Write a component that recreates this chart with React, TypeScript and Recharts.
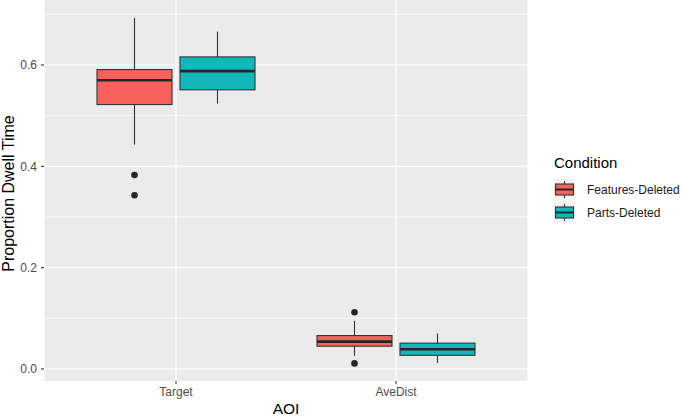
import React from 'react';
import { ComposedChart, Bar, XAxis, YAxis, CartesianGrid, Legend } from 'recharts';

// ---- data ----
const categories = ['Target', 'AveDist'];
const seriesNames = ['Features-Deleted', 'Parts-Deleted'];
const seriesColors = ['#F8625C', '#13B7BA'];

// Features-Deleted box statistics (per category)
const fdLower = [0.443, 0.026];
const fdQ1 = [0.522, 0.045];
const fdMedian = [0.570, 0.054];
const fdQ3 = [0.591, 0.066];
const fdUpper = [0.693, 0.095];
const fdOutliers = [[0.383, 0.343], [0.112, 0.011]];

// Parts-Deleted box statistics (per category)
const pdLower = [0.524, 0.012];
const pdQ1 = [0.551, 0.027];
const pdMedian = [0.588, 0.039];
const pdQ3 = [0.616, 0.051];
const pdUpper = [0.666, 0.070];
const pdOutliers: number[][] = [[], []];

const yTicks = [0, 0.2, 0.4, 0.6];
const yMinorTicks = [0.1, 0.3, 0.5, 0.7];
const yDomain = [-0.0237, 0.7283];

type Stats = {
  name: string;
  color: string;
  lower: number[];
  q1: number[];
  median: number[];
  q3: number[];
  upper: number[];
  outliers: number[][];
};

const series: Stats[] = [
  { name: seriesNames[0], color: seriesColors[0], lower: fdLower, q1: fdQ1, median: fdMedian, q3: fdQ3, upper: fdUpper, outliers: fdOutliers },
  { name: seriesNames[1], color: seriesColors[1], lower: pdLower, q1: pdQ1, median: pdMedian, q3: pdQ3, upper: pdUpper, outliers: pdOutliers },
];

const rows = categories.map((aoi, i) => ({
  aoi,
  idx: i,
  fd: [fdLower[i], fdUpper[i]],
  pd: [pdLower[i], pdUpper[i]],
}));

const FONT = '"Liberation Sans", Arial, Helvetica, sans-serif';
const DARK = '#333333';

function makeBoxShape(s: Stats) {
  return (props: any) => {
    const { x, y, width, height, payload } = props;
    if (payload == null || x == null || y == null) return <g />;
    const i = payload.idx;
    const top = Math.min(y, y + height);
    const h = Math.abs(height);
    const lo = s.lower[i];
    const hi = s.upper[i];
    const k = h / (hi - lo);
    const py = (v: number) => top + (hi - v) * k;
    const cx = x + width / 2;
    const yQ3 = py(s.q3[i]);
    const yQ1 = py(s.q1[i]);
    const yMed = py(s.median[i]);
    return (
      <g>
        <line x1={cx} x2={cx} y1={py(hi)} y2={py(lo)} stroke={DARK} strokeWidth={1.1} />
        <rect x={x} y={yQ3} width={width} height={yQ1 - yQ3} fill={s.color} stroke={DARK} strokeWidth={1.1} />
        <line x1={x} x2={x + width} y1={yMed} y2={yMed} stroke="#262626" strokeWidth={2.6} />
        {s.outliers[i].map((v, j) => (
          <circle key={j} cx={cx} cy={py(v)} r={3.3} fill="#262626" />
        ))}
      </g>
    );
  };
}

const YTitle = (props: any) => {
  const vb = props.viewBox || { x: 0, y: 0, width: 44, height: 381 };
  const bx = vb.x + 14;
  const cy = vb.y + vb.height / 2 + 3;
  return (
    <text x={bx} y={cy} transform={`rotate(-90, ${bx}, ${cy})`} textAnchor="middle" fontSize={16} fontFamily={FONT} fill="#000">
      Proportion Dwell Time
    </text>
  );
};

const XTitle = (props: any) => {
  const vb = props.viewBox || { x: 44, y: 381, width: 484, height: 36 };
  return (
    <text x={vb.x + vb.width / 2} y={vb.y + vb.height - 3} textAnchor="middle" fontSize={15.5} fontFamily={FONT} fill="#000">
      AOI
    </text>
  );
};

const renderLegend = () => (
  <svg width={137} height={80} style={{ display: 'block', overflow: 'visible' }}>
    <text x={6} y={18} fontSize={15} fontFamily={FONT} fill="#000">Condition</text>
    {series.map((s, j) => {
      const ky = 28 + j * 23;
      return (
        <g key={s.name}>
          <rect x={5} y={ky} width={23} height={23} fill="#F2F2F2" stroke="#FFFFFF" strokeWidth={1} />
          <line x1={16.5} x2={16.5} y1={ky + 3} y2={ky + 20} stroke={DARK} strokeWidth={1.1} />
          <rect x={7.5} y={ky + 6} width={18} height={11} fill={s.color} stroke={DARK} strokeWidth={1.1} />
          <line x1={7.5} x2={25.5} y1={ky + 11.5} y2={ky + 11.5} stroke="#262626" strokeWidth={2} />
          <text x={39} y={ky + 11.5} dy="0.35em" fontSize={12} fontFamily={FONT} fill="#1a1a1a">{s.name}</text>
        </g>
      );
    })}
  </svg>
);

export default function App() {
  return (
    <div style={{ position: 'absolute', left: 0, top: 0, width: 685, height: 417, background: '#fff' }}>
      <ComposedChart
        width={685}
        height={417}
        data={rows}
        margin={{ top: 0, right: 157, bottom: 0, left: 0 }}
        barSize={75}
        barGap={8}
      >
        <CartesianGrid
          fill="#EBEBEB"
          fillOpacity={1}
          stroke="#FFFFFF"
          strokeWidth={0.6}
          vertical={false}
          horizontalValues={yMinorTicks}
        />
        <CartesianGrid
          stroke="#FFFFFF"
          strokeWidth={1.2}
          horizontalValues={yTicks}
        />
        <XAxis
          dataKey="aoi"
          type="category"
          padding={{ left: 22, right: 22 }}
          height={36}
          interval={0}
          axisLine={false}
          tickSize={3}
          tickMargin={3}
          tickLine={{ stroke: DARK, strokeWidth: 1.1 }}
          tick={{ fill: '#4D4D4D', fontSize: 12, fontFamily: FONT }}
          label={(p: any) => <XTitle {...p} />}
        />
        <YAxis
          type="number"
          width={44}
          domain={yDomain}
          allowDataOverflow
          ticks={yTicks}
          interval={0}
          axisLine={false}
          tickSize={3}
          tickMargin={4}
          tickLine={{ stroke: DARK, strokeWidth: 1.1 }}
          tick={{ fill: '#4D4D4D', fontSize: 12, fontFamily: FONT }}
          tickFormatter={(v: number) => v.toFixed(1)}
          label={(p: any) => <YTitle {...p} />}
        />
        <Bar dataKey="fd" name={seriesNames[0]} fill={seriesColors[0]} shape={makeBoxShape(series[0])} isAnimationActive={false} />
        <Bar dataKey="pd" name={seriesNames[1]} fill={seriesColors[1]} shape={makeBoxShape(series[1])} isAnimationActive={false} />
        <Legend
          content={renderLegend}
          layout="horizontal"
          align="center"
          verticalAlign="middle"
          wrapperStyle={{ left: 548, top: 150, width: 137, height: 80 }}
        />
      </ComposedChart>
    </div>
  );
}
